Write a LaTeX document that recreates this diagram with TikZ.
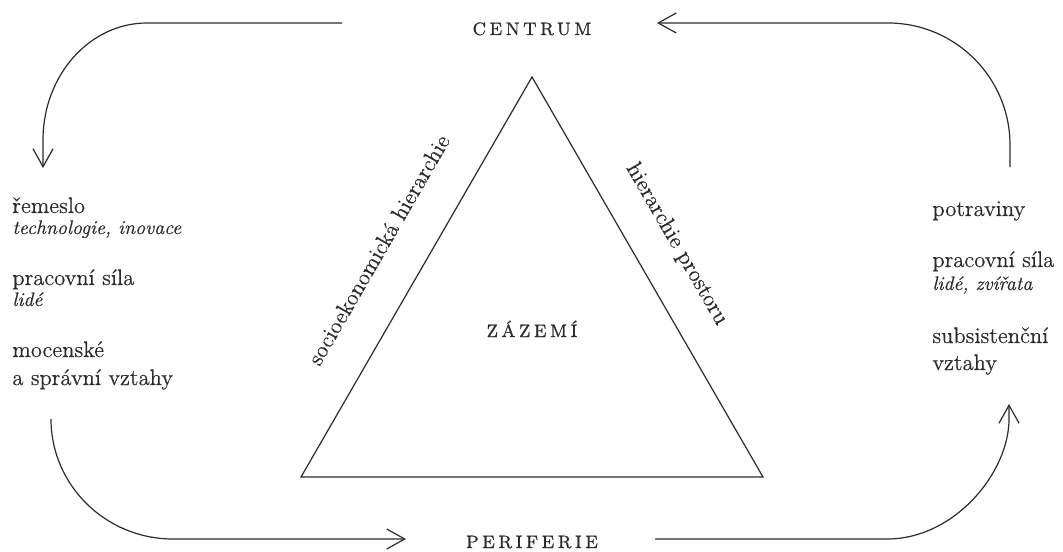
\documentclass[tikz,border=0pt]{standalone}
\usepackage{fontspec}
\setmainfont[FakeBold=0.35]{Latin Modern Roman}
\newfontfamily\spacedcaps[LetterSpace=20,FakeBold=0.9]{Latin Modern Roman}
\usetikzlibrary{arrows.meta,positioning}
\definecolor{ink}{HTML}{2B2B2B}

\begin{document}
\begin{tikzpicture}[
      x=0.5pt,y=-0.5pt,
      font=\fontsize{11.3}{14}\selectfont,
      pole/.style={font=\fontsize{9}{11}\spacedcaps,text=ink,anchor=base,inner sep=0pt},
      item/.style={anchor=base west,inner sep=0pt,text=ink},
      note/.style={item,font=\fontsize{9.8}{12}\selectfont\itshape},
      side/.style={sloped,inner sep=0pt,text=ink},
      edge/.style={draw=ink,line width=0.6pt},
      flow/.style={edge,-{Straight Barb[length=9pt,width=10pt]}}]
    \useasboundingbox (0,0) rectangle (1063,551);
    % poles
    \node[pole] (centrum) at (532,35) {CENTRUM};
    \node[pole] (periferie) at (532,548) {PERIFERIE};
    \node[pole] (zazemi) at (532,337) {ZÁZEMÍ};
    % triangle
    \coordinate (lc) at (301,477);
    \coordinate (top) at (532,77);
    \coordinate (rc) at (763,477);
    \draw[edge] (lc) -- node[side,pos=0.51,above=19pt]{socioekonomická hierarchie} (top)
      -- node[side,pos=0.47,above=15.5pt]{hierarchie prostoru} (rc) -- cycle;
    % left column
    \node[item] (craft) at (12,213) {řemeslo};
    \node[note] (craftsub) at (12,234) {technologie, inovace};
    \node[item] (labour) at (12,285) {pracovní síla};
    \node[note] (laboursub) at (12,306) {lidé};
    \node[item] (power) at (12,357) {mocenské};
    \node[item] (admin) at (12,385) {a správní vztahy};
    % right column
    \node[item] (food) at (932,216) {potraviny};
    \node[item] (work) at (932,267) {pracovní síla};
    \node[note] (worksub) at (932,290) {lidé, zvířata};
    \node[item] (subsist) at (932,343) {subsistenční};
    \node[item] (ties) at (932,370) {vztahy};
    % flows
    \coordinate (tlA) at (342,23);
    \coordinate (tlB) at (43,168);
    \coordinate (trA) at (1010,167);
    \coordinate (trB) at (657,23);
    \coordinate (blA) at (51,419);
    \coordinate (blB) at (406,539);
    \coordinate (brA) at (655,539);
    \coordinate (brB) at (1009,404);
    \draw[flow] (tlA) -- (147,23) .. controls (89.6,23) and (43,75.4) .. (43,140) -- (tlB);
    \draw[flow] (trA) -- (1010,145) .. controls (1010,77.7) and (955.3,23) .. (888,23) -- (trB);
    \draw[flow] (blA) .. controls (51,485.2) and (105.7,539) .. (173,539) -- (blB);
    \draw[flow] (brA) -- (887,539) .. controls (954.3,539) and (1009,472.8) .. (1009,419) -- (brB);
  \end{tikzpicture}
\end{document}
